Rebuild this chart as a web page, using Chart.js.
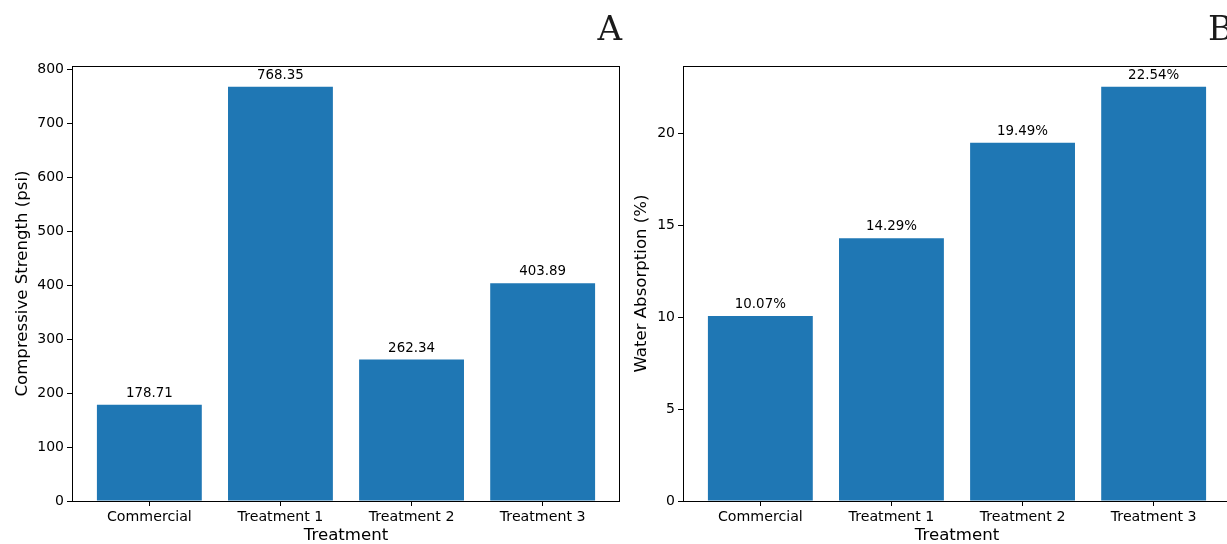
<!DOCTYPE html>
<html>
<head>
<meta charset="utf-8">
<script src="https://cdn.jsdelivr.net/npm/chart.js@4.4.0/dist/chart.umd.min.js"></script>
<style>
  html, body { margin: 0; padding: 0; background: #fff; overflow: hidden; width: 1227px; height: 544px; }
  .wrap { position: absolute; top: 0; height: 544px; }
  #wa { left: 0; width: 625px; }
  #wb { left: 623px; width: 613px; }
</style>
</head>
<body>
<div class="wrap" id="wa"><canvas id="ca"></canvas></div>
<div class="wrap" id="wb"><canvas id="cb"></canvas></div>
<script>
const categories = ['Commercial', 'Treatment 1', 'Treatment 2', 'Treatment 3'];
const strengthValues = [178.71, 768.35, 262.34, 403.89];
const absorptionValues = [10.07, 14.29, 19.49, 22.54];
const strengthTicks = [0, 100, 200, 300, 400, 500, 600, 700, 800];
const absorptionTicks = [0, 5, 10, 15, 20];
const panelTitles = ['A', 'B'];
const xTitle = 'Treatment';
const yTitles = ['Compressive Strength (psi)', 'Water Absorption (%)'];

const BAR = '#1f77b4';
const SANS = '"DejaVu Sans", sans-serif';

const panelPlugin = {
  id: 'panelExtras',
  afterDatasetsDraw(chart, args, opts) {
    const ctx = chart.ctx;
    const meta = chart.getDatasetMeta(0);
    ctx.save();
    ctx.fillStyle = '#000';
    ctx.font = '13.4px ' + SANS;
    ctx.textAlign = 'center';
    ctx.textBaseline = 'alphabetic';
    meta.data.forEach((el, i) => {
      const v = chart.data.datasets[0].data[i].y;
      ctx.fillText(opts.fmt(v), el.x, el.y - 8);
    });
    ctx.restore();
  },
  afterDraw(chart, args, opts) {
    const ctx = chart.ctx;
    const a = chart.chartArea;
    ctx.save();
    ctx.strokeStyle = '#000';
    ctx.lineWidth = 1;
    ctx.strokeRect(Math.round(a.left) + 0.5, Math.round(a.top) + 0.5,
                   Math.round(a.right - a.left) - 1, Math.round(a.bottom - a.top));
    ctx.fillStyle = '#1a1a1a';
    ctx.font = '34px "DejaVu Serif", serif';
    ctx.textAlign = 'right';
    ctx.textBaseline = 'alphabetic';
    ctx.fillText(opts.title, a.right + 2, 40);
    ctx.restore();
  }
};

function makeChart(id, values, ticks, yTitle, title, fmt, yAxisWidth, yTitlePad) {
  const n = categories.length;
  const lo = -0.4, hi = n - 1 + 0.4;
  const m = 0.05 * (hi - lo);
  const ymax = Math.max(...values) * 1.05;
  return new Chart(document.getElementById(id), {
    type: 'bar',
    data: {
      datasets: [{
        data: values.map((v, i) => ({ x: i, y: v })),
        backgroundColor: BAR,
        borderWidth: 0,
        barPercentage: 0.8,
        categoryPercentage: 1.0
      }]
    },
    options: {
      responsive: true,
      maintainAspectRatio: false,
      animation: false,
      layout: { padding: { top: 66, right: 5, bottom: 0, left: 0 } },
      plugins: {
        legend: { display: false },
        tooltip: { enabled: false },
        panelExtras: { title: title, fmt: fmt }
      },
      scales: {
        x: {
          type: 'linear',
          min: lo - m,
          max: hi + m,
          offset: false,
          border: { display: false },
          grid: { display: true, offset: false, drawOnChartArea: false, drawTicks: true, tickLength: 5, color: '#000', lineWidth: 1 },
          afterBuildTicks: (s) => { s.ticks = categories.map((c, i) => ({ value: i })); },
          afterFit: (s) => { s.height = 43; },
          ticks: {
            autoSkip: false, maxRotation: 0, padding: 3,
            color: '#000', font: { family: SANS, size: 14.2 },
            callback: (v) => categories[v]
          },
          title: { display: true, text: xTitle, color: '#000', font: { family: SANS, size: 16.6, lineHeight: 1.0 }, padding: { top: 0, bottom: 0 } }
        },
        y: {
          type: 'linear',
          min: 0,
          max: ymax,
          border: { display: false },
          grid: { display: true, drawOnChartArea: false, drawTicks: true, tickLength: 5, color: '#000', lineWidth: 1 },
          afterBuildTicks: (s) => { s.ticks = ticks.map(v => ({ value: v })); },
          afterFit: (s) => { s.width = yAxisWidth; },
          ticks: { padding: 3, color: '#000', font: { family: SANS, size: 14 } },
          title: { display: true, text: yTitle, color: '#000', font: { family: SANS, size: 16.6, lineHeight: 1.2 }, padding: { top: yTitlePad, bottom: 0 } }
        }
      }
    },
    plugins: [panelPlugin]
  });
}

makeChart('ca', strengthValues, strengthTicks, yTitles[0], panelTitles[0], v => v.toFixed(2), 72, 13);
makeChart('cb', absorptionValues, absorptionTicks, yTitles[1], panelTitles[1], v => v.toFixed(2) + '%', 60, 9);
</script>
</body>
</html>
